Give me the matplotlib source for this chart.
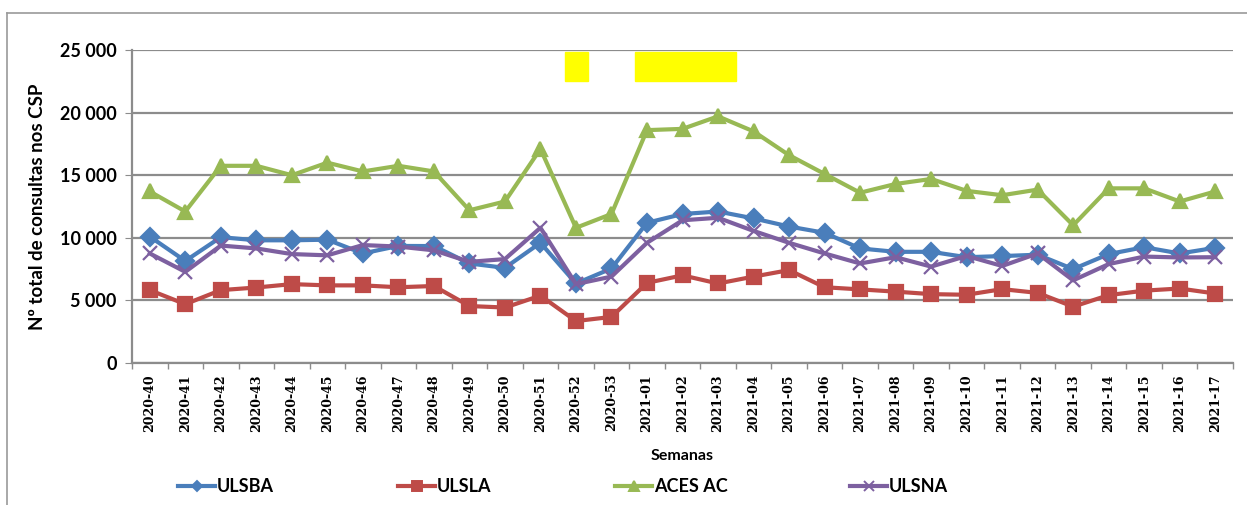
import numpy as np
import matplotlib
matplotlib.use("Agg")
import matplotlib.pyplot as plt
from matplotlib.patches import Rectangle
from matplotlib.lines import Line2D

semanas = [f"2020-{w}" for w in range(40, 54)] + [f"2021-{w:02d}" for w in range(1, 18)]

ulsba = [10100, 8150, 10050, 9800, 9800, 9850, 8750, 9350, 9340, 7950, 7600, 9600,
         6350, 7550, 11200, 11900, 12100, 11550, 10900, 10400, 9150, 8880, 8880,
         8450, 8540, 8650, 7500, 8700, 9250, 8750, 9200]
ulsla = [5820, 4700, 5820, 6030, 6300, 6200, 6200, 6050, 6150, 4550, 4430, 5380,
         3350, 3680, 6400, 7000, 6350, 6900, 7420, 6050, 5880, 5700, 5500, 5450,
         5900, 5600, 4500, 5420, 5780, 5950, 5550]
aces_ac = [13700, 12100, 15750, 15750, 15000, 16000, 15300, 15750, 15300, 12200,
           12900, 17100, 10800, 11900, 18600, 18700, 19700, 18500, 16600, 15100,
           13600, 14300, 14700, 13750, 13400, 13850, 11000, 13950, 13950, 12900, 13700]
ulsna = [8750, 7280, 9380, 9150, 8700, 8600, 9420, 9300, 9000, 8080, 8300, 10800,
         6300, 6900, 9600, 11400, 11600, 10550, 9600, 8750, 7950, 8450, 7700, 8550,
         7750, 8750, 6600, 7900, 8500, 8430, 8450]

# name, values, colour, marker, size on plot, size in legend
series = [
    ("ULSBA", ulsba, "#4A7EBB", "D", 9, 5),
    ("ULSLA", ulsla, "#BE4B48", "s", 10, 7.5),
    ("ACES AC", aces_ac, "#98B954", "^", 10, 7),
    ("ULSNA", ulsna, "#7D60A0", "x", 10, 7),
]

fig = plt.figure(figsize=(12.47, 5.05), dpi=100)
W, H = 1247, 505
ax = fig.add_axes([132 / W, 1 - 363 / H, (1233 - 132) / W, (363 - 50) / H])

x = np.arange(len(semanas))
for name, vals, col, mk, ms, lms in series:
    ax.plot(x, vals, color=col, lw=3, marker=mk, ms=ms, mec=col, mew=1.6,
            label=name, zorder=3)

ax.set_xlim(-0.5, len(semanas) - 0.5)
ax.set_ylim(0, 25000)
ax.set_yticks(range(0, 25001, 5000))
ax.set_yticklabels(["0", "5 000", "10 000", "15 000", "20 000", "25 000"],
                   fontsize=13, fontweight="bold", family="Lato")
ax.yaxis.grid(True, color="#8C8C8C", lw=1.6)
ax.set_axisbelow(True)
ax.tick_params(axis="y", length=5, color="#8C8C8C", pad=6)

ax.set_xticks(x)
ax.set_xticklabels(semanas, rotation=90, fontsize=9, fontweight="bold",
                   family="DejaVu Serif")
ax.tick_params(axis="x", length=0, pad=8)
ax.set_xticks(np.arange(-0.5, len(semanas), 1), minor=True)
ax.tick_params(axis="x", which="minor", length=4, color="#8C8C8C", width=1)

for s in ["top", "right"]:
    ax.spines[s].set_visible(False)
for s in ["left", "bottom"]:
    ax.spines[s].set_color("#8C8C8C")
    ax.spines[s].set_linewidth(1.6)

ax.set_ylabel("Nº total de consultas nos CSP", fontsize=13.5, fontweight="bold",
              family="Lato", labelpad=10)
fig.text(682 / W, 1 - 456 / H, "Semanas", ha="center", va="center",
         fontsize=11.5, fontweight="bold", family="Lato")

# yellow boxes
for x0, x1 in [(565, 588), (635, 736)]:
    fig.patches.append(Rectangle((x0 / W, 1 - 81 / H), (x1 - x0) / W, 29 / H,
                                 transform=fig.transFigure, color="#FFFF00", zorder=5))

# frame lines (left and top)
fig.add_artist(Line2D([7 / W, 7 / W], [0, 1 - 13 / H], color="#9A9A9A", lw=1.2))
fig.add_artist(Line2D([7 / W, 1], [1 - 13 / H, 1 - 13 / H], color="#9A9A9A", lw=1.2))

# legend entries
leg_x = [178, 398, 615, 850]
ly = 1 - 486 / H
for (name, vals, col, mk, ms, lms), lx in zip(series, leg_x):
    fig.add_artist(Line2D([lx / W, (lx + 37) / W], [ly, ly], color=col, lw=3))
    fig.add_artist(Line2D([(lx + 18.5) / W], [ly], color=col, marker=mk,
                          ms=lms, mew=1.4, mec=col, lw=0))
    fig.text((lx + 39) / W, ly, name, ha="left", va="center", fontsize=13,
             fontweight="bold", family="Lato")

fig.savefig("out.png", dpi=100)
